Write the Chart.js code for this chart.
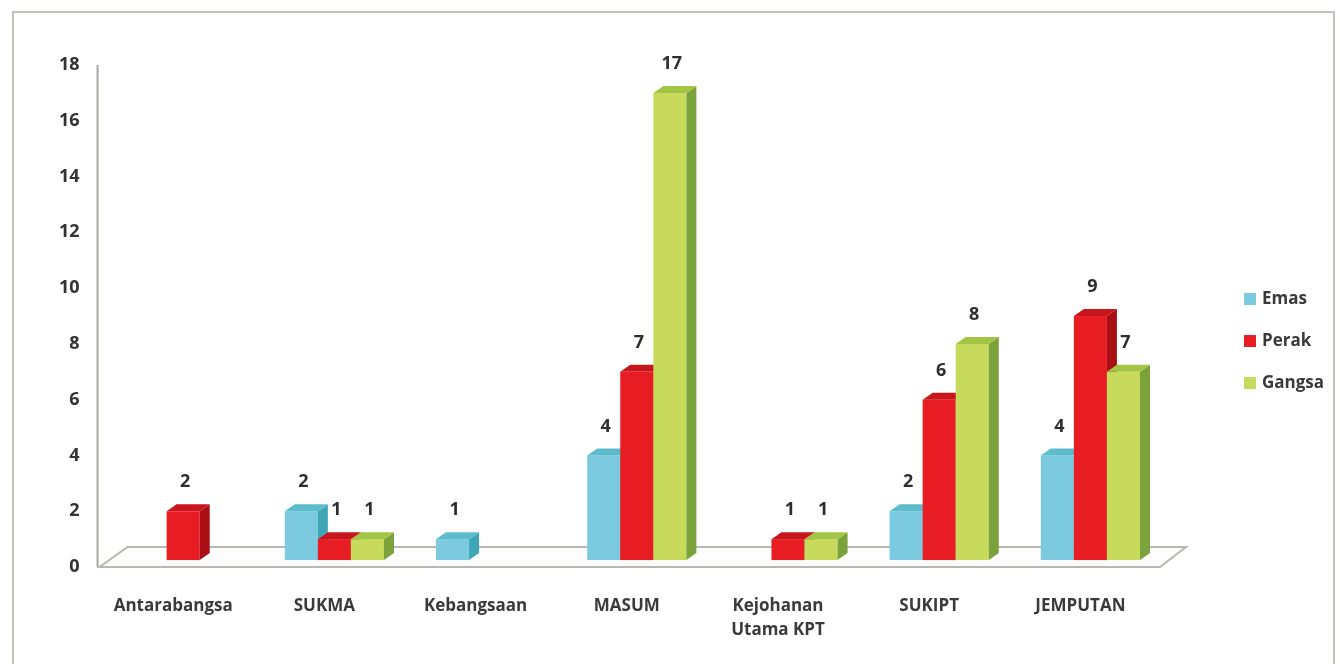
<!DOCTYPE html>
<html>
<head>
<meta charset="utf-8">
<script src="https://cdn.jsdelivr.net/npm/chart.js@4.4.1/dist/chart.umd.min.js"></script>
<style>
html, body { margin: 0; padding: 0; background: #fff; overflow: hidden; }
#wrap { position: relative; width: 1340px; height: 664px; }
#frame { position: absolute; left: 12px; top: 11px; width: 1323px; height: 720px; border: 2px solid #c4c0bc; box-sizing: border-box; pointer-events: none; }
canvas { position: absolute; left: 0; top: 0; }
</style>
</head>
<body>
<div id="wrap">
  <canvas id="chartPingat" width="1340" height="664"></canvas>
  <div id="frame"></div>
</div>
<script>
// data
const categories = ['Antarabangsa', 'SUKMA', 'Kebangsaan', 'MASUM', ['Kejohanan', 'Utama KPT'], 'SUKIPT', 'JEMPUTAN'];
const seriesNames = ['Emas', 'Perak', 'Gangsa'];
const emas   = [null, 2, 1, 4, null, 2, 4];
const perak  = [2, 1, null, 7, 1, 6, 9];
const gangsa = [null, 1, null, 17, 1, 8, 7];
const yTicks = [0, 2, 4, 6, 8, 10, 12, 14, 16, 18];

// face colours for the fake 3d look
const faces = [
  { front: '#7ccae0', side: '#3ea6b6', top: '#5cbccb' },
  { front: '#e81d24', side: '#a90f15', top: '#c8161c' },
  { front: '#c7da5b', side: '#7ca23c', top: '#a3c546' }
];
const DX = 10, DY = 7, LIFT = 7;

const bars3d = {
  id: 'bars3d',
  beforeDatasetsDraw(chart) {
    const ctx = chart.ctx, area = chart.chartArea;
    const y0 = chart.scales.y.getPixelForValue(0);
    const ax = area.left - 10;
    ctx.save();
    // floor
    ctx.beginPath();
    ctx.moveTo(ax + 2, y0);
    ctx.lineTo(area.right - 6, y0);
    ctx.lineTo(area.right + 20, y0 - 20);
    ctx.lineTo(ax + 30, y0 - 20);
    ctx.closePath();
    ctx.fillStyle = '#fdfdfd';
    ctx.fill();
    ctx.strokeStyle = '#bab6b2';
    ctx.lineWidth = 2;
    ctx.stroke();
    // y axis line
    ctx.beginPath();
    ctx.moveTo(ax, area.top);
    ctx.lineTo(ax, y0);
    ctx.strokeStyle = '#a9a5a1';
    ctx.stroke();
    ctx.restore();
  },
  afterDatasetsDraw(chart) {
    const ctx = chart.ctx;
    ctx.save();
    chart.data.datasets.forEach((ds, i) => {
      const meta = chart.getDatasetMeta(i);
      meta.data.forEach((bar, j) => {
        if (ds.data[j] == null) return;
        const { x, y, base, width } = bar.getProps(['x', 'y', 'base', 'width'], true);
        const l = x - width / 2, r = x + width / 2, b = base - LIFT;
        ctx.fillStyle = faces[i].front;
        ctx.fillRect(l, y, width, b - y);
        ctx.beginPath();
        ctx.moveTo(r, y);
        ctx.lineTo(r + DX, y - DY);
        ctx.lineTo(r + DX, b - DY);
        ctx.lineTo(r, b);
        ctx.closePath();
        ctx.fillStyle = faces[i].side;
        ctx.fill();
        ctx.beginPath();
        ctx.moveTo(l, y);
        ctx.lineTo(l + DX, y - DY);
        ctx.lineTo(r + DX, y - DY);
        ctx.lineTo(r, y);
        ctx.closePath();
        ctx.fillStyle = faces[i].top;
        ctx.fill();
      });
    });
    // value labels
    ctx.font = 'bold 18px "Open Sans"';
    ctx.fillStyle = '#2e2e2e';
    ctx.textAlign = 'center';
    ctx.textBaseline = 'middle';
    chart.data.datasets.forEach((ds, i) => {
      chart.getDatasetMeta(i).data.forEach((bar, j) => {
        if (ds.data[j] == null) return;
        ctx.fillText(String(ds.data[j]), bar.x + 2, bar.y - 29);
      });
    });
    ctx.restore();
  },
  afterDraw(chart) {
    // legend on the right
    const ctx = chart.ctx, area = chart.chartArea;
    const lx = area.right + 78, ly = (area.top + area.bottom) / 2 - 17;
    ctx.save();
    ctx.font = 'bold 17px "Open Sans"';
    ctx.textBaseline = 'middle';
    ctx.textAlign = 'left';
    seriesNames.forEach((name, i) => {
      const yy = ly + i * 42;
      ctx.fillStyle = faces[i].front;
      ctx.fillRect(lx, yy - 6, 12, 12);
      ctx.fillStyle = '#3a3a3a';
      ctx.fillText(name, lx + 18, yy);
    });
    ctx.restore();
  }
};

new Chart(document.getElementById('chartPingat').getContext('2d'), {
  type: 'bar',
  data: {
    labels: categories,
    datasets: [
      { label: seriesNames[0], data: emas, backgroundColor: 'rgba(0,0,0,0)' },
      { label: seriesNames[1], data: perak, backgroundColor: 'rgba(0,0,0,0)' },
      { label: seriesNames[2], data: gangsa, backgroundColor: 'rgba(0,0,0,0)' }
    ]
  },
  options: {
    responsive: false,
    animation: false,
    layout: { padding: { left: 31, top: 65, right: 174, bottom: -5 } },
    datasets: { bar: { categoryPercentage: 0.656, barPercentage: 1 } },
    plugins: { legend: { display: false }, tooltip: { enabled: false } },
    scales: {
      x: {
        grid: { display: false, drawTicks: false },
        border: { display: false },
        ticks: {
          font: { family: 'Open Sans', size: 17, weight: 'bold', lineHeight: 1.41 },
          color: '#3a3a3a',
          padding: 27,
          labelOffset: -10,
          maxRotation: 0,
          autoSkip: false
        }
      },
      y: {
        min: 0,
        max: 18,
        afterBuildTicks: axis => { axis.ticks = yTicks.map(v => ({ value: v })); },
        grid: { display: false, drawTicks: false },
        border: { display: false },
        ticks: {
          font: { family: 'Open Sans', size: 18, weight: 'bold' },
          color: '#333',
          padding: 28
        }
      }
    }
  },
  plugins: [bars3d]
});
</script>
</body>
</html>
